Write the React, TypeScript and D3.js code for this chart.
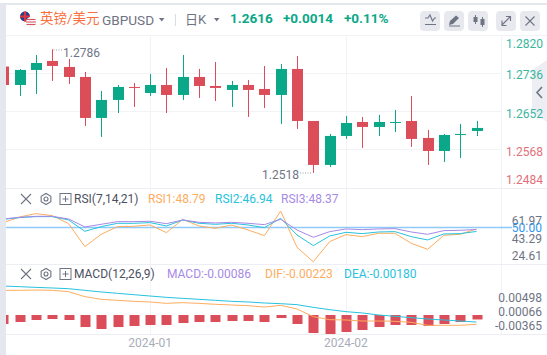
import React from "react";
import * as d3 from "d3";

const W = 547, H = 355;
// first candle is the one cut by the left border
const opens = [1.2751,1.27102,1.27434,1.27633,1.27500,1.27279,1.26373,1.26771,1.27058,1.26925,1.27102,1.26881,1.27279,1.27080,1.26992,1.27102,1.27014,1.26881,1.27456,1.26306,1.25334,1.25975,1.26284,1.26174,1.26262,1.26306,1.25931,1.25643,1.25997,1.26085];
const closes = [1.2710,1.27434,1.27588,1.27522,1.27279,1.26373,1.26771,1.27058,1.27036,1.27102,1.26881,1.27279,1.27080,1.27036,1.27102,1.26992,1.26881,1.27456,1.26306,1.25334,1.25975,1.26262,1.26174,1.26284,1.26284,1.25909,1.25643,1.25997,1.26019,1.26152];
const highs = [1.2751,1.27456,1.27765,1.27890,1.27677,1.27389,1.26969,1.27102,1.27146,1.27345,1.27478,1.27765,1.27456,1.27611,1.27191,1.27213,1.27522,1.27566,1.27743,1.26306,1.26019,1.26417,1.26395,1.26439,1.26550,1.26859,1.26107,1.26019,1.26240,1.26306];
const lows = [1.2710,1.26859,1.26903,1.27191,1.27124,1.26196,1.25953,1.26483,1.26616,1.26859,1.26483,1.26771,1.26815,1.26748,1.26616,1.26395,1.26594,1.26240,1.26130,1.25157,1.25290,1.25909,1.25710,1.25975,1.26063,1.25732,1.25334,1.25400,1.25489,1.25975];

const rsi1 = [53.44,57.63,60.09,58.61,52.71,35.73,44.83,50.49,50.74,51.72,46.06,55.90,50.98,49.26,51.72,48.03,43.85,61.97,35.24,24.61,39.42,44.59,43.11,45.57,45.57,38.19,33.76,44.10,44.83,48.79];
const rsi2 = [55.90,57.13,57.87,57.87,55.41,47.05,50.49,52.95,52.95,53.44,50.98,55.41,52.95,52.21,52.95,51.72,49.75,56.64,44.34,36.47,43.60,46.31,45.33,46.56,46.80,43.11,40.65,45.08,45.33,46.94];
const rsi3 = [56.15,57.38,58.12,58.12,56.15,50.25,52.21,54.18,54.18,54.43,52.71,55.41,53.69,53.20,53.69,52.95,51.97,55.90,48.03,42.62,46.80,48.77,48.28,48.77,49.02,46.56,44.83,47.54,47.79,48.37];
const macdHist = [-0.00173,-0.00134,-0.00096,-0.00077,-0.00096,-0.00231,-0.00269,-0.00231,-0.00211,-0.00192,-0.00192,-0.00154,-0.00134,-0.00134,-0.00115,-0.00115,-0.00134,-0.00058,-0.00173,-0.00346,-0.00365,-0.00327,-0.00288,-0.00231,-0.00192,-0.00192,-0.00211,-0.00173,-0.00134,-0.00086];
const dea = [0.00498,0.00486,0.00473,0.00461,0.00448,0.00417,0.00386,0.00361,0.00335,0.00310,0.00285,0.00266,0.00248,0.00229,0.00210,0.00198,0.00179,0.00166,0.00147,0.00097,0.00053,0.00016,-0.00009,-0.00047,-0.00072,-0.00097,-0.00122,-0.00141,-0.00160,-0.00180];
const dif = [0.00417,0.00417,0.00423,0.00417,0.00392,0.00298,0.00248,0.00229,0.00210,0.00198,0.00172,0.00185,0.00172,0.00154,0.00141,0.00129,0.00103,0.00135,0.00066,-0.00078,-0.00135,-0.00141,-0.00160,-0.00160,-0.00166,-0.00185,-0.00241,-0.00241,-0.00241,-0.00223];

const priceTicks = [1.282, 1.2736, 1.2652, 1.2568, 1.2484];
const priceLabels = ["1.2820", "1.2736", "1.2652", "1.2568", "1.2484"];
const rsiLabels = ["61.97", "43.29", "24.61"];
const macdLabels = ["0.00498", "0.00066", "-0.00365"];
const dateLabels = [{ i: 9, t: "2024-01" }, { i: 21, t: "2024-02" }];

const UP = "#0aa888", DOWN = "#dc4d5a", GRID = "#f2f3f7", AXIS = "#6f7484";
const ORANGE = "#fdad5f", CYAN = "#27c2dd", PURPLE = "#a68ae8";
const FONT = "Roboto, 'Noto Sans', 'Noto Sans CJK SC', sans-serif";

const x = d3.scaleLinear().domain([0, 29]).range([3.3, 476.5]);
const yP = d3.scaleLinear().domain([1.282, 1.2484]).range([35.3, 187.3]);
const yR = d3.scaleLinear().domain([50, 24.61]).range([227.3, 261.7]);
const yM = d3.scaleLinear().domain([0, -0.00365]).range([312.5, 331.9]);
const yH = d3.scaleLinear().domain([0, -0.00365]).range([315, 334]);

const mk = (vals: number[], y: (v: number) => number) =>
  d3.line<number>().x((_, i) => x(i)).y((v) => y(v))(vals) as string;

function Cross({ cx, cy, r, sw = 1.1, c = "#6f7484" }: any) {
  return <path d={`M${cx - r} ${cy - r}L${cx + r} ${cy + r}M${cx + r} ${cy - r}L${cx - r} ${cy + r}`} stroke={c} strokeWidth={sw} fill="none" />;
}
function Hex({ cx, cy }: any) {
  const pts = d3.range(6).map((i) => {
    const a = Math.PI / 3 * i + Math.PI / 2;
    return `${cx + 5.6 * Math.cos(a)},${cy + 5.6 * Math.sin(a)}`;
  }).join(" ");
  return <g fill="none" stroke="#6f7484" strokeWidth={1.1}><polygon points={pts} /><circle cx={cx} cy={cy} r={2} /></g>;
}
function Plus({ cx, cy }: any) {
  return <g fill="none" stroke="#6f7484" strokeWidth={1}><rect x={cx - 5.5} y={cy - 5.5} width={11} height={11} /><path d={`M${cx - 3} ${cy}H${cx + 3}M${cx} ${cy - 3}V${cy + 3}`} /></g>;
}
function Btn({ x: bx }: any) {
  return <rect x={bx} y={11} width={20} height={20} rx={4} fill="#e7e9ef" />;
}

export default function App() {
  return (
    <svg width={W} height={H} viewBox={`0 0 ${W} ${H}`} style={{ position: "absolute", left: 0, top: 0, display: "block", fontFamily: FONT }}>
      <rect width={W} height={H} fill="#fff" />
      <defs>
        <clipPath id="plot"><rect x={6} y={36} width={496} height={300} /></clipPath>
      </defs>

      {/* frame */}
      <rect x={0} y={3} width={W} height={2} fill="#e4e7ee" />
      <rect x={0} y={3} width={6} height={H} fill="#e4e7ee" />
      <rect x={6} y={35} width={W - 6} height={1} fill="#f2f3f7" />

      {/* grid */}
      {priceTicks.slice(1, 4).map((p) => (
        <line key={p} x1={6} x2={502} y1={Math.round(yP(p)) + 0.5} y2={Math.round(yP(p)) + 0.5} stroke={GRID} />
      ))}
      {dateLabels.map((d) => (
        <line key={d.t} x1={Math.round(x(d.i)) + 0.5} x2={Math.round(x(d.i)) + 0.5} y1={36} y2={335} stroke={GRID} />
      ))}
      <line x1={501.5} x2={501.5} y1={36} y2={335} stroke={GRID} />
      <line x1={6} x2={547} y1={188.5} y2={188.5} stroke="#eceef3" />
      <line x1={6} x2={547} y1={264.5} y2={264.5} stroke="#eceef3" />
      <line x1={6} x2={547} y1={334.5} y2={334.5} stroke="#eceef3" />

      {/* header */}
      <g>
        <circle cx={25} cy={16.5} r={5} fill="#2b3f87" />
        <path d="M20 16.5H30M25 11.5V21.5" stroke="#e0343f" strokeWidth={2} />
        <circle cx={31} cy={22} r={5} fill="#f4f4f6" />
        <path d="M26.5 19.5H35.5M26 22H36M26.5 24.5H35.5" stroke="#d9525c" strokeWidth={1.2} />
      </g>
      <text x={40} y={23} fontSize={13.5} fill="#f9703e">英镑/美元</text>
      <text x={102} y={25} fontSize={13.6} fill={AXIS}>GBPUSD</text>
      <path d="M159 18H164.5L161.7 21.5Z" fill={AXIS} />
      <rect x={175} y={14} width={1} height={12} fill="#d9dce3" />
      <text x={185} y={24} fontSize={13} fill={AXIS}>日K</text>
      <path d="M214 18H219.5L216.7 21.5Z" fill={AXIS} />
      <text x={230} y={23} fontSize={13.5} fontWeight={700} fill={UP}>1.2616</text>
      <text x={283} y={23} fontSize={13.5} fontWeight={700} fill={UP}>+0.0014</text>
      <text x={344} y={23} fontSize={13.5} fontWeight={700} fill={UP}>+0.11%</text>

      {/* toolbar */}
      {[420, 444, 468, 496, 520].map((b) => <Btn key={b} x={b} />)}
      <path d="M425 18H428L430 15L432.5 21L434.5 18H436M425 24.5H436" stroke={AXIS} fill="none" strokeWidth={1.1} />
      <path d="M449 25L450 21L456 15.5L459 18L453 24Z" fill={AXIS} />
      <path d="M449 26H460" stroke={AXIS} strokeWidth={1} />
      <path d="M475.5 15V24M482.5 17V27" stroke={AXIS} />
      <rect x={473.5} y={17} width={4} height={5} fill={AXIS} />
      <rect x={480.5} y={19} width={4} height={6} fill={AXIS} />
      <path d="M502 25L510 17M506 16.5H510.5V21M502 20.5V25.5H506.5" stroke={AXIS} fill="none" strokeWidth={1.1} />
      <Cross cx={530} cy={21} r={4.5} />

      {/* candles */}
      <g clipPath="url(#plot)">
        {opens.map((o, i) => {
          const c = closes[i];
          const col = c >= o ? UP : DOWN;
          const cx = Math.round(x(i)) + 0.5;
          const top = yP(Math.max(o, c));
          const hgt = Math.max(1, yP(Math.min(o, c)) - top);
          return (
            <g key={i}>
              <line x1={cx} x2={cx} y1={yP(highs[i])} y2={yP(lows[i])} stroke={col} />
              <rect x={cx - 5.5} y={top} width={11} height={hgt} fill={col} />
            </g>
          );
        })}

        {/* RSI */}
        <line x1={6} x2={510} y1={227.5} y2={227.5} stroke="#90caf9" strokeWidth={1.6} />
        <path d={mk(rsi1, yR)} fill="none" stroke={ORANGE} />
        <path d={mk(rsi2, yR)} fill="none" stroke={CYAN} />
        <path d={mk(rsi3, yR)} fill="none" stroke={PURPLE} />

        {/* MACD */}
        {macdHist.map((v, i) => (
          <rect key={i} x={Math.round(x(i)) - 4.5} y={yH(0)} width={10} height={yH(v) - yH(0)} fill={DOWN} />
        ))}
        <path d={mk(dea, yM)} fill="none" stroke={CYAN} />
        <path d={mk(dif, yM)} fill="none" stroke={ORANGE} />
      </g>
      <line x1={501} x2={512} y1={227.5} y2={227.5} stroke="#90caf9" strokeWidth={1.6} />

      {/* extremes */}
      <path d="M53.5 50H62" stroke="#9a9eac" strokeWidth={1} strokeDasharray="1 1.5" />
      <text x={63} y={57} fontSize={12} fill={AXIS}>1.2786</text>
      <text x={262} y={179} fontSize={12} fill={AXIS}>1.2518</text>
      <path d="M300 173H312" stroke="#9a9eac" strokeWidth={1} strokeDasharray="1 1.5" />

      {/* collapse tab */}
      <path d="M547 60L532 70V112L547 122Z" fill="#e9ebf1" opacity={0.85} />
      <path d="M542 87L537 92.5L542 98" fill="none" stroke={AXIS} strokeWidth={1.6} />

      {/* price axis */}
      {priceLabels.map((t, i) => (
        <text key={t} x={543} y={[47.5, 79, 117.5, 156, 183.5][i]} fontSize={12} textAnchor="end" fill={i < 3 ? "#3cb59e" : "#e2707a"}>{t}</text>
      ))}

      {/* RSI legend */}
      <Cross cx={26} cy={199} r={5} />
      <Hex cx={46} cy={199} />
      <Plus cx={65.5} cy={199} />
      <text x={74} y={203} fontSize={12} fill="#4c5060">RSI(7,14,21)</text>
      <text x={148} y={203} fontSize={12} fill={ORANGE}>RSI1:48.79</text>
      <text x={215} y={203} fontSize={12} fill={CYAN}>RSI2:46.94</text>
      <text x={281} y={203} fontSize={12} fill={PURPLE}>RSI3:48.37</text>
      {rsiLabels.map((t, i) => (
        <text key={t} x={542} y={[225, 243, 260][i]} fontSize={12} textAnchor="end" fill={AXIS}>{t}</text>
      ))}
      <text x={542} y={232} fontSize={12} textAnchor="end" fill="#2f96ef">50.00</text>

      {/* MACD legend */}
      <Cross cx={26} cy={274} r={5} />
      <Hex cx={46} cy={274} />
      <Plus cx={65.5} cy={274} />
      <text x={74} y={278} fontSize={12} fill="#4c5060">MACD(12,26,9)</text>
      <text x={167} y={278} fontSize={12} fill={PURPLE}>MACD:-0.00086</text>
      <text x={265} y={278} fontSize={12} fill={ORANGE}>DIF:-0.00223</text>
      <text x={344} y={278} fontSize={12} fill={CYAN}>DEA:-0.00180</text>
      {macdLabels.map((t, i) => (
        <text key={t} x={542} y={[302, 316, 330][i]} fontSize={12} textAnchor="end" fill={AXIS}>{t}</text>
      ))}

      {/* time axis */}
      {dateLabels.map((d) => (
        <text key={d.t} x={x(d.i)} y={347} fontSize={12} textAnchor="middle" fill="#a9adb9">{d.t}</text>
      ))}
    </svg>
  );
}
